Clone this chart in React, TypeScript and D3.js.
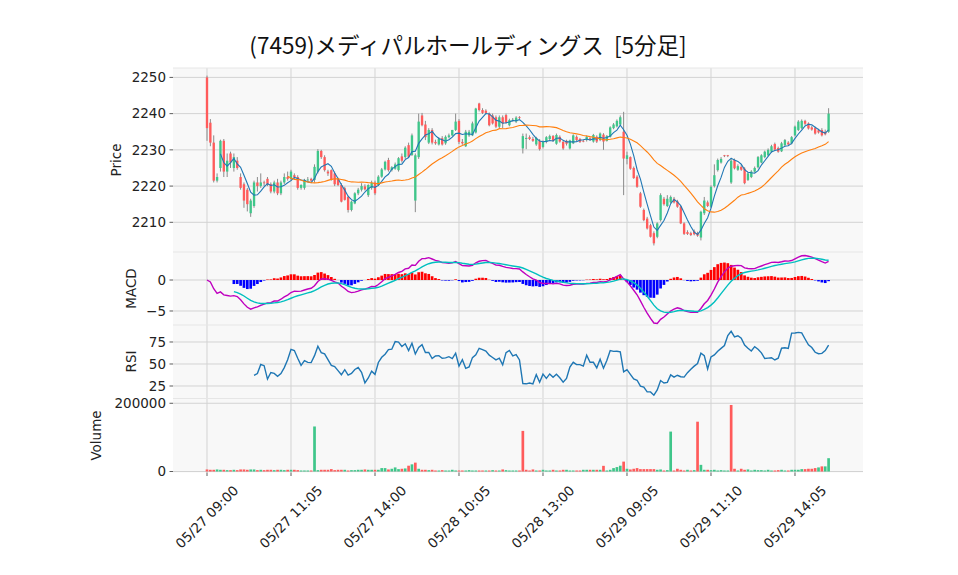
import React, { useEffect, useRef } from 'react';
import * as d3 from 'd3';

// 5-minute bars, 3 sessions (05/27 - 05/29)
const opens = [
  2250, 2237.5, 2232, 2221.5, 2225, 2232.5, 2224, 2229, 2225, 2227,
  2222.5, 2220.5, 2219, 2212.5, 2214.5, 2221, 2220, 2221, 2222, 2220.5,
  2218.5, 2221, 2218, 2221, 2222.5, 2222, 2223, 2222.5, 2219.5, 2219.5,
  2221.7, 2222, 2221.7, 2224, 2229.7, 2228, 2224, 2224.4, 2223.5, 2222,
  2220.3, 2219.4, 2217, 2213.4, 2215.2, 2218, 2219, 2219.9, 2217.5, 2219.5,
  2221, 2220.3, 2222.6, 2224.6, 2227.2, 2224.4, 2224.8, 2224.4, 2228.2, 2228,
  2231.3, 2228.6,
  2216, 2228, 2239.5, 2237, 2232, 2235.5, 2232.2, 2231.5, 2233.2, 2231.8,
  2233.5, 2234, 2235.5, 2238, 2232.2, 2231, 2234, 2234, 2234.8, 2242.8,
  2241, 2240.8, 2240, 2239.5, 2239, 2236.4, 2239, 2239.6, 2236.8, 2238,
  2237.8, 2239, 2230.4, 2233, 2233.5, 2233, 2231.5, 2232.5, 2230.8, 2232.2,
  2233, 2233.8, 2231.7, 2233.6, 2232.2, 2232.5, 2230.4, 2231.8, 2233.6, 2233,
  2232.5, 2232.7, 2233.2, 2232.3, 2233.6, 2232.7, 2234.2, 2232.5, 2233.6, 2236,
  2236.5, 2237,
  2235, 2227.5, 2228, 2225, 2222.6, 2218, 2213.4, 2211, 2209.2, 2207,
  2206, 2210.6, 2216.5, 2214.5, 2215.5, 2216.5, 2215.8, 2214.3, 2209.7, 2207.3,
  2207, 2207.5, 2207, 2205.8, 2212.5, 2215.5, 2214.3, 2220, 2224.4, 2226.5,
  2228.5, 2228.5, 2221, 2227.2, 2224.5, 2225.3, 2224.8, 2221.7, 2222.5, 2224,
  2225.2, 2226.5, 2228, 2228.5, 2229.5, 2231.6, 2230.5, 2229.6, 2231.3, 2232,
  2231.8, 2234, 2235.5, 2236, 2238, 2237.3, 2236.2, 2236, 2235.4, 2235.5,
  2235, 2235
];
const highs = [
  2250.5, 2238.5, 2234, 2223.5, 2232.8, 2233, 2229, 2229.5, 2229, 2228,
  2223.5, 2221, 2219.5, 2216.5, 2221.5, 2222.5, 2223.5, 2221.5, 2222.5, 2221,
  2221.5, 2222, 2221.5, 2223.5, 2224, 2224.5, 2223.5, 2223, 2220.5, 2222,
  2222.5, 2222.3, 2226, 2230.2, 2230, 2228.5, 2224.5, 2224.6, 2224, 2222.3,
  2220.8, 2219.8, 2217.3, 2216, 2218.3, 2219.5, 2220.8, 2220.5, 2220.5, 2221.5,
  2221.5, 2223, 2225, 2227, 2227.8, 2225.5, 2226.5, 2228, 2229, 2231,
  2232, 2234.5,
  2229, 2240, 2240.2, 2238, 2236, 2236, 2232.8, 2233.5, 2233.8, 2234,
  2234.5, 2235.5, 2240, 2238.5, 2233, 2235.5, 2235.5, 2237.8, 2241.6, 2243,
  2241.5, 2241.2, 2240.3, 2240, 2239.5, 2239.5, 2239.5, 2240, 2238.6, 2238.8,
  2239.3, 2239.3, 2234.5, 2234.5, 2234, 2233.6, 2233.6, 2233, 2232.6, 2233.8,
  2234.2, 2234.1, 2234.5, 2234, 2232.6, 2232.8, 2232.8, 2234.3, 2234, 2233.3,
  2232.8, 2234, 2233.5, 2234.4, 2234, 2234.8, 2234.6, 2234.1, 2236.5, 2237.4,
  2238.4, 2239.5,
  2240.5, 2229.5, 2228.2, 2225.4, 2223, 2218.4, 2213.8, 2211.5, 2209.6, 2207.5,
  2210, 2218, 2217, 2217.5, 2217.4, 2217, 2216.2, 2214.5, 2210, 2207.8,
  2207.4, 2208, 2207.4, 2213.2, 2217, 2216, 2220.2, 2226, 2227.6, 2228,
  2228.6, 2228.6, 2227.8, 2227.6, 2226, 2225.8, 2225.2, 2223.8, 2224.4, 2225.4,
  2228.3, 2228.8, 2229.8, 2230.4, 2231.4, 2232, 2230.9, 2232.2, 2233, 2232.4,
  2233.8, 2236.7, 2238.2, 2238.4, 2238.3, 2237.6, 2236.6, 2236.4, 2235.8, 2236,
  2235.6, 2241.5
];
const lows = [
  2232.5, 2231, 2221, 2221, 2224, 2222.5, 2222.5, 2225, 2224, 2224.5,
  2219, 2214, 2213, 2211.5, 2214, 2218.5, 2219.5, 2220, 2220, 2218,
  2218, 2217.5, 2217.5, 2220.5, 2221.5, 2221.5, 2222, 2219, 2219, 2219,
  2221.3, 2221.2, 2221, 2223.5, 2227.5, 2224, 2222.8, 2221.5, 2220, 2220,
  2215.5, 2216, 2212.7, 2213, 2215, 2217.5, 2218.5, 2218.8, 2217, 2219,
  2217.5, 2220, 2222.3, 2224.3, 2224, 2224, 2224.5, 2224, 2226.5, 2227.5,
  2227.8, 2228.3,
  2212.8, 2227.5, 2236.5, 2232.7, 2231.6, 2231.5, 2231.4, 2231.2, 2231.2, 2231.4,
  2233.2, 2233.7, 2235.2, 2231.6, 2231.4, 2230.8, 2233.6, 2233.8, 2234.5, 2240.6,
  2239.9, 2239.9, 2236.5, 2237, 2236, 2236, 2236, 2237.2, 2236.5, 2237.8,
  2237.4, 2238.5, 2229, 2230.2, 2232.7, 2232.2, 2231.1, 2229.8, 2230.4, 2231.8,
  2232.6, 2232.2, 2231.4, 2232, 2230, 2231.2, 2230.1, 2231.6, 2232.4, 2231.9,
  2232.1, 2232.3, 2232.5, 2232, 2231.9, 2232.4, 2230, 2232.3, 2233.4, 2235.7,
  2236.2, 2236.7,
  2217.5, 2226, 2224.5, 2222, 2219.5, 2214, 2210.3, 2208, 2205.8, 2203.6,
  2205.6, 2210.2, 2214.6, 2214.2, 2215.2, 2215.2, 2214, 2209.5, 2206.5, 2206.5,
  2206.2, 2206.4, 2206, 2205, 2212, 2214.2, 2214, 2219.6, 2224, 2226.2,
  2228, 2228, 2220.6, 2224.6, 2224.2, 2224.2, 2220.5, 2221.4, 2222.2, 2223.7,
  2224.9, 2226.3, 2227.7, 2228.3, 2229.2, 2229.8, 2229.2, 2229.4, 2231, 2231.2,
  2231.5, 2233.7, 2235.2, 2235.7, 2236.8, 2235.6, 2235.3, 2234.2, 2234.5, 2233.7,
  2234, 2234.7
];
const closes = [
  2236, 2232, 2221.5, 2222.5, 2232.5, 2224, 2227, 2226.5, 2228, 2225,
  2219.5, 2216, 2215, 2216, 2221, 2220, 2221, 2220.8, 2220.5, 2218.5,
  2221, 2218, 2221, 2222.5, 2222, 2224, 2222.5, 2219.5, 2220.3, 2221.7,
  2221.8, 2221.5, 2225.3, 2229.7, 2228, 2224.4, 2223.5, 2221.7, 2220.5, 2220.3,
  2215.7, 2216.2, 2213.4, 2215.7, 2218, 2219, 2220, 2219.1, 2220.3, 2220.9,
  2218, 2222.6, 2224.6, 2226.7, 2224.4, 2225.2, 2226, 2227.7, 2227, 2230.6,
  2228.1, 2234,
  2228.5, 2237.8, 2236.8, 2233.5, 2235.5, 2232, 2231.8, 2233, 2231.5, 2233.6,
  2234, 2235.5, 2237.8, 2232.2, 2231.8, 2235, 2235, 2237.3, 2241.4, 2241,
  2240.2, 2240.2, 2236.8, 2237.3, 2236.4, 2239, 2237.3, 2237.5, 2238.2, 2238.3,
  2238.9, 2238.8, 2233.8, 2233.3, 2233, 2232.5, 2233.3, 2230.2, 2232.2, 2233.5,
  2233.8, 2232.5, 2234.1, 2232.3, 2230.4, 2231.7, 2232.6, 2234, 2232.7, 2232.2,
  2232.4, 2233.6, 2232.8, 2234.1, 2232.3, 2234.5, 2232.3, 2233.8, 2236.2, 2237,
  2238, 2239,
  2227.6, 2228.5, 2224.8, 2222.2, 2219.8, 2214.3, 2210.6, 2208.3, 2206, 2204.2,
  2209.7, 2217.5, 2215, 2216.5, 2217, 2215.5, 2214.3, 2209.7, 2206.8, 2206.8,
  2206.5, 2206.7, 2206.3, 2212.9, 2216, 2214.5, 2219.8, 2223, 2227.2, 2227.5,
  2228.3, 2228.3, 2227, 2224.9, 2225.5, 2224.5, 2220.8, 2223.5, 2224, 2225,
  2228, 2228.5, 2229.5, 2230, 2231, 2230.1, 2229.5, 2231.8, 2232.7, 2231.5,
  2233.5, 2236.4, 2237.8, 2238, 2237.2, 2235.9, 2235.6, 2234.5, 2234.8, 2234,
  2234.3, 2240
];
const volumes = [
  6000, 5000, 5000, 6000, 5000, 5000, 4000, 4000, 5000, 4000,
  6000, 6000, 5000, 6000, 6000, 4000, 5000, 4000, 5000, 5000,
  4000, 5000, 5000, 4000, 5000, 5000, 5000, 4000, 3000, 3000,
  3000, 3000, 132000, 4000, 5000, 5000, 5000, 7000, 4000, 5000,
  5000, 5000, 3000, 4000, 4000, 5000, 5000, 6000, 5000, 5000,
  5000, 5000, 10000, 10000, 6000, 8000, 12000, 7000, 8000, 9000,
  17000, 21000,
  26000, 8000, 5000, 5000, 4000, 5000, 3000, 3000, 4000, 3000,
  3000, 5000, 3000, 3000, 3000, 3000, 4000, 3000, 3000, 3000,
  3000, 3000, 3000, 4000, 3000, 3000, 6000, 4000, 3000, 3000,
  3000, 3000, 119000, 5000, 3000, 6000, 3000, 3000, 5000, 3000,
  3000, 5000, 3000, 3000, 5000, 5000, 3000, 3000, 3000, 3000,
  5000, 5000, 5000, 5000, 5000, 5000, 16600, 3000, 5000, 10000,
  13000, 17000,
  29000, 8000, 6000, 8000, 10000, 7000, 7000, 7000, 7000, 7000,
  5000, 6000, 3000, 4000, 117000, 3000, 8000, 5000, 3000, 5000,
  3000, 4000, 146000, 19500, 5000, 5000, 4000, 5000, 3000, 4000,
  3000, 3000, 195000, 8000, 3000, 8000, 5000, 6000, 3000, 5000,
  4000, 4000, 3000, 5000, 3000, 3000, 4000, 5000, 3000, 3000,
  5000, 5000, 5000, 7000, 7000, 8000, 8000, 10000, 12000, 15000,
  15000, 39000
];

const tickIndex = [0, 25, 50, 75, 100, 125, 150, 175];
const tickLabels = [
  '05/27 09:00', '05/27 11:05', '05/27 14:00', '05/28 10:05',
  '05/28 13:00', '05/29 09:05', '05/29 11:10', '05/29 14:05'
];
const priceTicks = [2210, 2220, 2230, 2240, 2250];
const macdTicks = [-5, 0];
const rsiTicks = [25, 50, 75];
const volumeTicks = [0, 200000];

const W = 958;
const H = 575;
const LEFT = 173;
const RIGHT = 863;
const FONT = 'DejaVu Sans, sans-serif';

const UP = '#3fc68a';
const DOWN = '#ff5b5b';
const GRID = '#d3d3d3';
const BG = '#f8f8f8';

// exponential average seeded with the first value (no bias adjustment)
function ema(vals: number[], span: number): number[] {
  const a = 2 / (span + 1);
  const out: number[] = [];
  vals.forEach((v, i) => {
    out.push(i === 0 ? v : a * v + (1 - a) * out[i - 1]);
  });
  return out;
}

function sma(vals: number[], n: number): (number | null)[] {
  return vals.map((_, i) => (i < n - 1 ? null : d3.mean(vals.slice(i - n + 1, i + 1)) as number));
}

function rsi(vals: number[], n: number): (number | null)[] {
  return vals.map((_, i) => {
    if (i < n) return null;
    let g = 0;
    let l = 0;
    for (let j = i - n + 1; j <= i; j++) {
      const d = vals[j] - vals[j - 1];
      if (d > 0) g += d; else l -= d;
    }
    return l === 0 ? 100 : 100 - 100 / (1 + g / l);
  });
}

const App: React.FC = () => {
  const svgRef = useRef<SVGSVGElement>(null);

  useEffect(() => {
    if (!svgRef.current) return;
    const svg = d3.select(svgRef.current);
    svg.selectAll('*').remove();

    const n = closes.length;
    const idx = d3.range(n);

    const x = d3.scaleLinear().domain([-10.12, 195.24]).range([LEFT, RIGHT]);
    const step = x(1) - x(0);

    const panels = {
      price: [68, 252],
      macd: [252, 325],
      rsi: [325, 398.5],
      vol: [398.5, 472.5]
    };

    const yPrice = d3.scaleLinear().domain([2201.8, 2252.6]).range([panels.price[1], panels.price[0]]);
    const yMacd = d3.scaleLinear().domain([-7.26, 4.52]).range([panels.macd[1], panels.macd[0]]);
    const yRsi = d3.scaleLinear().domain([10.8, 94.3]).range([panels.rsi[1], panels.rsi[0]]);
    const yVol = d3.scaleLinear().domain([-2930, 214000]).range([panels.vol[1], panels.vol[0]]);

    // indicators
    const ma5 = sma(closes, 5);
    const ma25 = sma(closes, 25);
    const e12 = ema(closes, 12);
    const e26 = ema(closes, 26);
    const macd = e12.map((v, i) => v - e26[i]);
    const signal = ema(macd, 9);
    const hist = macd.map((v, i) => v - signal[i]);
    const rsiVals = rsi(closes, 14);

    // panel backgrounds, grids
    const drawPanel = (key: keyof typeof panels, y: d3.ScaleLinear<number, number>, ticks: number[], fmt: (v: number) => string) => {
      const [top, bottom] = panels[key];
      const g = svg.append('g');
      g.append('rect')
        .attr('x', LEFT).attr('y', top)
        .attr('width', RIGHT - LEFT).attr('height', bottom - top)
        .attr('fill', BG);
      tickIndex.forEach(t => {
        g.append('line')
          .attr('x1', x(t)).attr('x2', x(t))
          .attr('y1', top).attr('y2', bottom)
          .attr('stroke', GRID).attr('stroke-width', 1);
      });
      ticks.forEach(t => {
        g.append('line')
          .attr('x1', LEFT).attr('x2', RIGHT)
          .attr('y1', y(t)).attr('y2', y(t))
          .attr('stroke', GRID).attr('stroke-width', 1);
        g.append('line')
          .attr('x1', LEFT - 3.5).attr('x2', LEFT)
          .attr('y1', y(t)).attr('y2', y(t))
          .attr('stroke', '#333').attr('stroke-width', 0.8);
        g.append('text')
          .attr('x', LEFT - 7).attr('y', y(t))
          .attr('dy', '0.35em')
          .attr('text-anchor', 'end')
          .attr('font-family', FONT)
          .attr('font-size', 13.5)
          .attr('fill', '#222')
          .text(fmt(t));
      });
      // thin separator on top of panel
      g.append('line')
        .attr('x1', LEFT).attr('x2', RIGHT)
        .attr('y1', top).attr('y2', top)
        .attr('stroke', '#e6e6e6').attr('stroke-width', 1);
    };

    drawPanel('price', yPrice, priceTicks, v => String(v));
    drawPanel('macd', yMacd, macdTicks, v => (v < 0 ? '\u2212' + Math.abs(v) : String(v)));
    drawPanel('rsi', yRsi, rsiTicks, v => String(v));
    drawPanel('vol', yVol, volumeTicks, v => String(v));

    // candles
    const bodyW = step * 0.7;
    const candles = svg.append('g');
    idx.forEach(i => {
      const up = closes[i] >= opens[i];
      const col = up ? UP : DOWN;
      candles.append('line')
        .attr('x1', x(i)).attr('x2', x(i))
        .attr('y1', yPrice(highs[i])).attr('y2', yPrice(lows[i]))
        .attr('stroke', '#8a8a8a').attr('stroke-width', 1);
      const y0 = yPrice(Math.max(opens[i], closes[i]));
      const y1 = yPrice(Math.min(opens[i], closes[i]));
      candles.append('rect')
        .attr('x', x(i) - bodyW / 2).attr('y', y0)
        .attr('width', bodyW).attr('height', Math.max(y1 - y0, 0.8))
        .attr('fill', col);
    });

    const lineGen = (y: d3.ScaleLinear<number, number>) =>
      d3.line<[number, number | null]>()
        .defined(d => d[1] !== null)
        .x(d => x(d[0]))
        .y(d => y(d[1] as number));

    svg.append('path')
      .datum(idx.map(i => [i, ma5[i]] as [number, number | null]))
      .attr('fill', 'none').attr('stroke', '#1f77b4').attr('stroke-width', 1.1)
      .attr('d', lineGen(yPrice));
    svg.append('path')
      .datum(idx.map(i => [i, ma25[i]] as [number, number | null]))
      .attr('fill', 'none').attr('stroke', '#ff7f0e').attr('stroke-width', 1.1)
      .attr('d', lineGen(yPrice));

    // MACD
    const hg = svg.append('g');
    idx.filter(i => i >= 8).forEach(i => {
      const v = hist[i];
      hg.append('rect')
        .attr('x', x(i) - step * 0.4).attr('width', step * 0.8)
        .attr('y', Math.min(yMacd(v), yMacd(0)))
        .attr('height', Math.abs(yMacd(v) - yMacd(0)))
        .attr('fill', v >= 0 ? '#ff0000' : '#0000ff');
    });
    svg.append('path')
      .datum(idx.map(i => [i, macd[i]] as [number, number | null]))
      .attr('fill', 'none').attr('stroke', '#bf00bf').attr('stroke-width', 1.4)
      .attr('d', lineGen(yMacd));
    svg.append('path')
      .datum(idx.map(i => [i, i >= 8 ? signal[i] : null] as [number, number | null]))
      .attr('fill', 'none').attr('stroke', '#00bfbf').attr('stroke-width', 1.4)
      .attr('d', lineGen(yMacd));

    // RSI
    svg.append('path')
      .datum(idx.map(i => [i, rsiVals[i]] as [number, number | null]))
      .attr('fill', 'none').attr('stroke', '#1f77b4').attr('stroke-width', 1.4)
      .attr('d', lineGen(yRsi));

    // Volume (colour follows change from previous close)
    const vg = svg.append('g');
    idx.forEach(i => {
      const up = i === 0 ? closes[0] >= opens[0] : closes[i] >= closes[i - 1];
      vg.append('rect')
        .attr('x', x(i) - step * 0.4).attr('width', step * 0.8)
        .attr('y', yVol(volumes[i]))
        .attr('height', yVol(0) - yVol(volumes[i]))
        .attr('fill', up ? UP : DOWN);
    });

    // x ticks and labels
    tickIndex.forEach((t, k) => {
      svg.append('line')
        .attr('x1', x(t)).attr('x2', x(t))
        .attr('y1', panels.vol[1]).attr('y2', panels.vol[1] + 3.5)
        .attr('stroke', '#333').attr('stroke-width', 0.8);
      svg.append('text')
        .attr('transform', `translate(${x(t)},${517}) rotate(-45)`)
        .attr('text-anchor', 'middle')
        .attr('dy', '0.35em')
        .attr('font-family', FONT)
        .attr('font-size', 13.5)
        .attr('fill', '#222')
        .text(tickLabels[k]);
    });

    // axis titles
    const yTitle = (label: string, cx: number, cy: number) => {
      svg.append('text')
        .attr('transform', `translate(${cx},${cy}) rotate(-90)`)
        .attr('text-anchor', 'middle')
        .attr('font-family', FONT)
        .attr('font-size', 13.5)
        .attr('fill', '#222')
        .text(label);
    };
    yTitle('Price', 121, 160);
    yTitle('MACD', 136, 288.5);
    yTitle('RSI', 136, 361.5);
    yTitle('Volume', 101, 435.5);

    // title
    svg.append('text')
      .attr('x', 468).attr('y', 53.5)
      .attr('text-anchor', 'middle')
      .attr('font-family', '"Noto Sans CJK JP", sans-serif')
      .attr('font-size', 22.5)
      .attr('fill', '#111')
      .style('white-space', 'pre')
      .text('(7459)メディパルホールディングス  [5分足]');
  }, []);

  return (
    <div style={{ position: 'absolute', left: 0, top: 0 }}>
      <svg ref={svgRef} width={W} height={H} style={{ display: 'block', background: '#fff' }} />
    </div>
  );
};

export default App;
